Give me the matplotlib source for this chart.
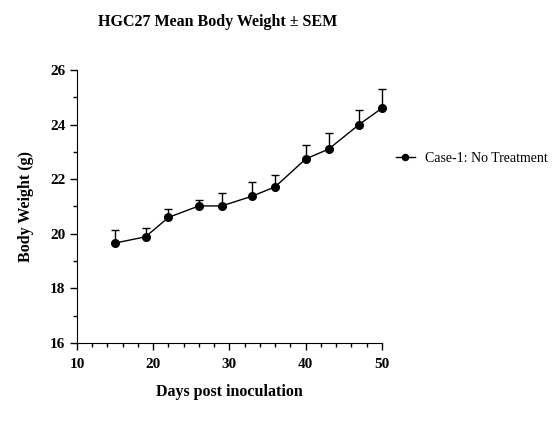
import matplotlib.pyplot as plt

days = [15, 19, 22, 26, 29, 33, 36, 40, 43, 47, 50]
weight = [19.66, 19.89, 20.60, 21.02, 21.02, 21.38, 21.72, 22.74, 23.10, 24.00, 24.60]
sem = [0.49, 0.32, 0.31, 0.20, 0.46, 0.51, 0.45, 0.50, 0.58, 0.54, 0.69]

plt.rcParams['font.family'] = 'Liberation Serif'

fig = plt.figure(figsize=(5.59, 4.28), dpi=100)
ax = fig.add_axes([0.1377, 0.1986, 0.5456, 0.638])

# one-sided (upper) SEM bars
eb = ax.errorbar(days, weight, yerr=[[0] * len(sem), sem], fmt='none', ecolor='black',
                 elinewidth=1, capsize=3, capthick=1)
for art in eb.lines[1] + eb.lines[2]:
    art.set_clip_on(False)
ax.plot(days, weight, '-o', color='black', markersize=5.5, linewidth=1,
        clip_on=False, label='Case-1: No Treatment')

ax.set_xlim(10, 50)
ax.set_ylim(16, 26)
ax.set_xticks(range(10, 51, 10))
ax.set_xticks(range(10, 51, 2), minor=True)
ax.set_yticks(range(16, 27, 2))
ax.set_yticks(range(16, 27, 1), minor=True)
ax.spines['top'].set_visible(False)
ax.spines['right'].set_visible(False)
ax.tick_params(which='both', direction='out', width=1)
ax.tick_params(which='major', length=5)
ax.tick_params(which='minor', length=3)
ax.tick_params(axis='x', pad=6)
for lab in ax.get_xticklabels() + ax.get_yticklabels():
    lab.set_fontweight('bold')
    lab.set_fontsize(11)

ax.set_xlabel('Days post inoculation', fontsize=11.5, fontweight='bold', labelpad=9)
ax.set_ylabel('Body Weight (g)', fontsize=11.5, fontweight='bold', labelpad=11.5)
fig.text(0.39, 0.948, 'HGC27 Mean Body Weight \u00b1 SEM', fontsize=11.5,
         fontweight='bold', ha='center', va='center')

ax.legend(loc='center left', bbox_to_anchor=(1.004, 0.675), frameon=False,
          fontsize=10, handlelength=1.4, handletextpad=0.7, markerscale=0.8)

fig.savefig('out.png', dpi=100)
